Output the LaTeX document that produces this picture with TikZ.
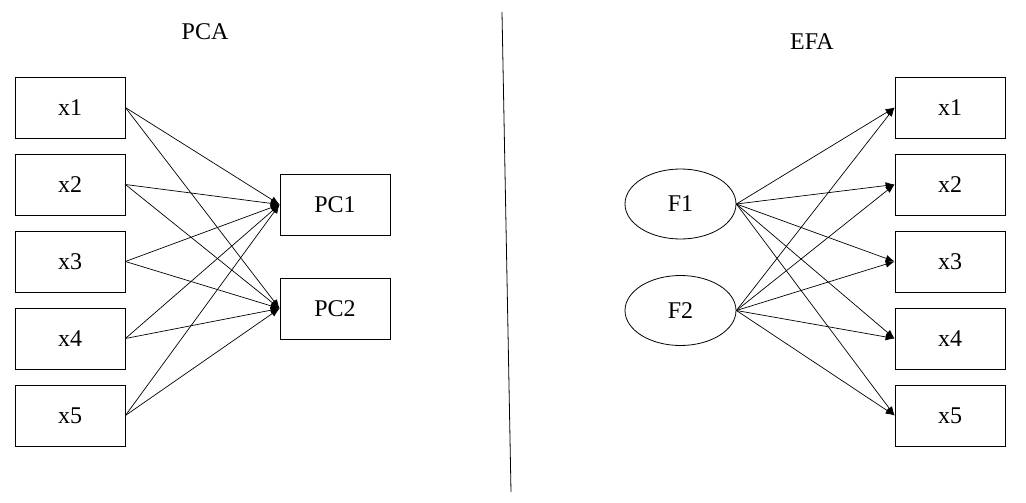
\documentclass[tikz,border=0pt]{standalone}
\usepackage{fontspec}
\setmainfont{Liberation Serif}
\usetikzlibrary{arrows.meta,shapes.geometric}
\begin{document}
\begin{tikzpicture}[x=1pt,y=-1pt,
  box/.style={draw,line width=0.8pt,minimum width=110pt,minimum height=61pt,inner sep=0pt,font=\fontsize{24}{28}\selectfont},
  lat/.style={draw,ellipse,line width=0.8pt,minimum width=111pt,minimum height=70pt,inner sep=0pt,font=\fontsize{24}{28}\selectfont},
  ttl/.style={font=\fontsize{24}{28}\selectfont},
  conn/.style={line width=0.7pt,-{Latex[length=9pt,width=7pt]}}]
\useasboundingbox (0,0) rectangle (1026,503);
% PCA side
\node[ttl] (tpca) at (205,32) {PCA};
\node[box] (lx1) at (70,107.5) {x1};
\node[box] (lx2) at (70,184.5) {x2};
\node[box] (lx3) at (70,261.5) {x3};
\node[box] (lx4) at (70,338.5) {x4};
\node[box] (lx5) at (70,415.5) {x5};
\node[box] (pc1) at (335,204.5) {PC1};
\node[box] (pc2) at (335,308.5) {PC2};
\foreach \i in {1,...,5}{
  \draw[conn] (lx\i.east) -- (pc1.west);
  \draw[conn] (lx\i.east) -- (pc2.west);
}
% divider
\coordinate (dtop) at (502,12);
\coordinate (dbot) at (511,492);
\draw[line width=0.8pt] (dtop) -- (dbot);
% EFA side
\node[ttl] (tefa) at (812,42) {EFA};
\node[lat] (f1) at (680.5,204) {F1};
\node[lat] (f2) at (680.5,310.5) {F2};
\node[box] (rx1) at (950,107.5) {x1};
\node[box] (rx2) at (950,184.5) {x2};
\node[box] (rx3) at (950,261.5) {x3};
\node[box] (rx4) at (950,338.5) {x4};
\node[box] (rx5) at (950,415.5) {x5};
\foreach \i in {1,...,5}{
  \draw[conn] (f1.east) -- (rx\i.west);
  \draw[conn] (f2.east) -- (rx\i.west);
}
\end{tikzpicture}
\end{document}
